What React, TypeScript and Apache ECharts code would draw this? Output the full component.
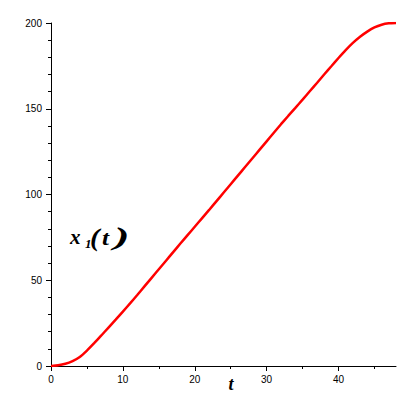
import React, { useEffect, useRef } from 'react';
import * as echarts from 'echarts';

const tValues = [0, 1, 2, 3, 4, 5, 6, 7, 8, 9, 10, 11, 12, 13, 14, 15, 16, 17, 18, 19, 20, 21, 22, 23, 24, 25, 26, 27, 28, 29, 30, 31, 32, 33, 34, 35, 36, 37, 38, 39, 40, 41, 42, 43, 44, 45, 46, 47, 48];
const x1Values = [0, 0.4, 1.3, 2.9, 5.3, 9, 13.3, 17.8, 22.4, 27, 31.7, 36.5, 41.4, 46.4, 51.4, 56.4, 61.4, 66.4, 71.4, 76.3, 81.2, 86.1, 91, 96, 101, 106, 111, 116, 121, 126, 131, 136, 141, 145.8, 150.5, 155.3, 160.2, 165, 170, 174.8, 179.6, 184.2, 188.4, 192, 195, 197.4, 199, 199.8, 200];
const xMajorTicks = [0, 10, 20, 30, 40];
const xMinorTicks = [5, 15, 25, 35, 45];
const yTickInterval = 50;

export default function App() {
  const ref = useRef<HTMLDivElement>(null);
  useEffect(() => {
    if (!ref.current) return;
    const chart = echarts.init(ref.current, null, { renderer: 'svg' });
    const labelStyle = { color: '#000', fontSize: 10, fontFamily: 'Liberation Sans' };
    const grid = { left: 51, right: 20, top: 23, bottom: 43 };
    const serif = '"Liberation Serif"';
    chart.setOption({
      animation: false,
      backgroundColor: '#fff',
      grid: [grid, grid],
      xAxis: [
        {
          type: 'value', gridIndex: 0, min: 0, max: 48, interval: 10,
          axisLine: { show: true, lineStyle: { color: '#000', width: 1 } },
          axisTick: { show: true, length: 5, customValues: xMajorTicks, lineStyle: { color: '#000' } },
          axisLabel: { ...labelStyle, margin: 8, customValues: xMajorTicks },
          splitLine: { show: false },
        },
        {
          type: 'value', gridIndex: 1, min: 0, max: 48, interval: 10,
          axisLine: { show: false },
          axisTick: { show: true, length: 3, customValues: xMinorTicks, lineStyle: { color: '#000' } },
          axisLabel: { show: false },
          splitLine: { show: false },
        },
      ],
      yAxis: [
        {
          type: 'value', gridIndex: 0, min: 0, max: 200, interval: yTickInterval,
          axisLine: { show: true, lineStyle: { color: '#000', width: 1 } },
          axisTick: { show: true, length: 5, lineStyle: { color: '#000' } },
          minorTick: { show: true, splitNumber: 5, length: 3, lineStyle: { color: '#000' } },
          axisLabel: { ...labelStyle, margin: 9 },
          splitLine: { show: false },
        },
        { type: 'value', gridIndex: 1, min: 0, max: 200, show: false },
      ],
      series: [
        {
          type: 'line',
          xAxisIndex: 0,
          yAxisIndex: 0,
          data: tValues.map((t, i) => [t, x1Values[i]]),
          showSymbol: false,
          smooth: 0.2,
          lineStyle: { color: '#ff0000', width: 2.5 },
        },
      ],
      graphic: [
        {
          type: 'text', x: 231, y: 384,
          style: { text: 't', font: `italic bold 18px ${serif}`, fill: '#000', align: 'center', verticalAlign: 'middle' },
        },
        {
          type: 'text', x: 70, y: 237,
          style: { text: 'x', font: `italic bold 21px ${serif}`, fill: '#000', align: 'left', verticalAlign: 'middle' },
        },
        {
          type: 'text', x: 85, y: 243,
          style: { text: '1', font: `italic bold 13px ${serif}`, fill: '#000', align: 'left', verticalAlign: 'middle' },
        },
        {
          type: 'text', x: 90, y: 237, scaleX: 1.1,
          style: { text: '(', font: `italic bold 26px ${serif}`, fill: '#000', align: 'left', verticalAlign: 'middle' },
        },
        {
          type: 'text', x: 102, y: 238, scaleX: 1.15,
          style: { text: 't', font: `italic bold 22px ${serif}`, fill: '#000', align: 'left', verticalAlign: 'middle' },
        },
        {
          type: 'text', x: 114, y: 236, scaleX: 1.8,
          style: { text: ')', font: `italic bold 26px ${serif}`, fill: '#000', align: 'left', verticalAlign: 'middle' },
        },
      ],
    });
    return () => chart.dispose();
  }, []);
  return <div ref={ref} style={{ position: 'absolute', left: 0, top: 0, width: 416, height: 409 }} />;
}
